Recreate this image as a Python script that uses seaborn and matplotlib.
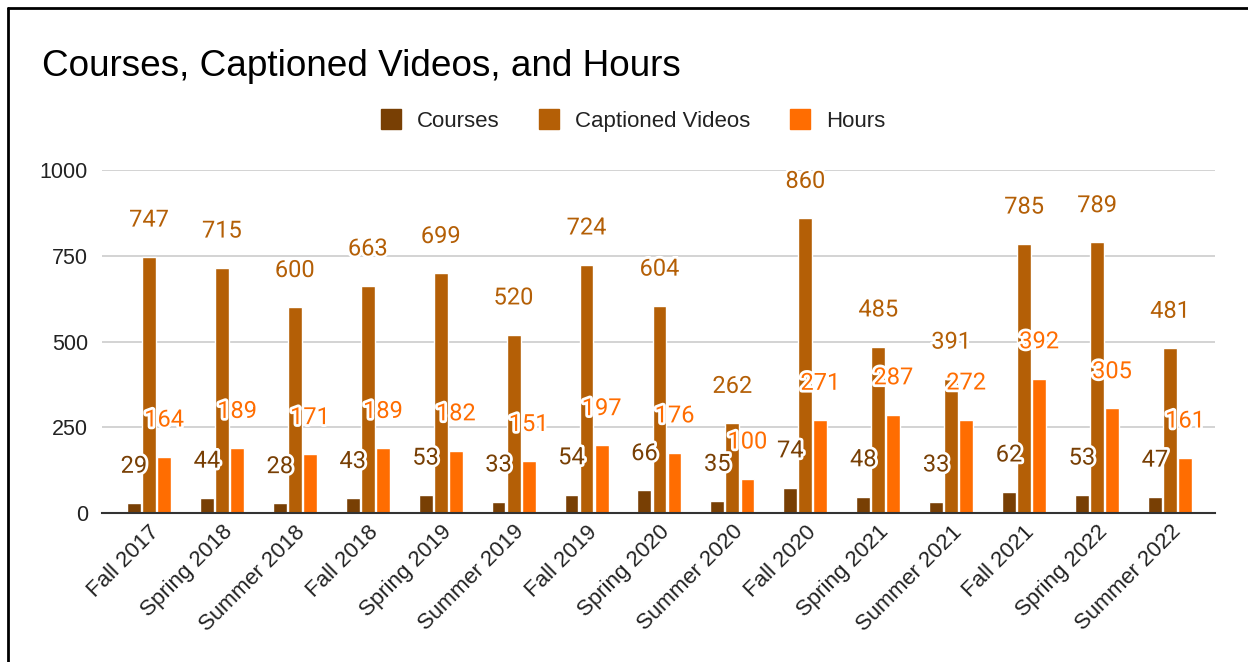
import pandas as pd
import matplotlib.pyplot as plt
import matplotlib.patheffects as pe
from matplotlib.lines import Line2D
import seaborn as sns

# Data
terms = ['Fall 2017', 'Spring 2018', 'Summer 2018', 'Fall 2018', 'Spring 2019',
         'Summer 2019', 'Fall 2019', 'Spring 2020', 'Summer 2020', 'Fall 2020',
         'Spring 2021', 'Summer 2021', 'Fall 2021', 'Spring 2022', 'Summer 2022']
courses = [29, 44, 28, 43, 53, 33, 54, 66, 35, 74, 48, 33, 62, 53, 47]
captioned_videos = [747, 715, 600, 663, 699, 520, 724, 604, 262, 860, 485, 391, 785, 789, 481]
hours = [164, 189, 171, 189, 182, 151, 197, 176, 100, 271, 287, 272, 392, 305, 161]

series = ['Courses', 'Captioned Videos', 'Hours']
colors = ['#783f04', '#b45f06', '#ff6d01']

df = pd.DataFrame({'Term': terms, 'Courses': courses,
                   'Captioned Videos': captioned_videos, 'Hours': hours})
long_df = df.melt(id_vars='Term', var_name='Series', value_name='Value')

sns.set_theme(style='white')
plt.rcParams['font.family'] = ['Liberation Sans', 'DejaVu Sans']

fig = plt.figure(figsize=(12.48, 6.62), dpi=100)
ax = fig.add_axes([0.0817, 0.225, 0.892, 0.518])

sns.barplot(data=long_df, x='Term', y='Value', hue='Series', order=terms,
            hue_order=series, palette=colors, width=0.62, gap=0.08,
            saturation=1, legend=False, ax=ax)

# data labels above each bar, with white halo
for container, color in zip(ax.containers, colors):
    for bar in container:
        h = bar.get_height()
        ax.annotate(f'{h:.0f}', (bar.get_x() + bar.get_width() / 2, h),
                    xytext=(0, 26.5), textcoords='offset points',
                    ha='center', va='center', fontsize=17, color=color,
                    family=['Roboto', 'DejaVu Sans'],
                    path_effects=[pe.withStroke(linewidth=4, foreground='white')])

ax.set_ylim(0, 1000)
ax.set_xlim(-0.645, 14.62)
ax.set_yticks([0, 250, 500, 750, 1000])
ax.grid(axis='y', color='#cccccc', linewidth=1.2)
ax.set_axisbelow(True)
for s in ['top', 'right', 'left']:
    ax.spines[s].set_visible(False)
ax.spines['bottom'].set_color('#333333')
ax.spines['bottom'].set_linewidth(1.5)
ax.set_xlabel('')
ax.set_ylabel('')
ax.tick_params(axis='y', length=0, labelsize=15.5, labelcolor='#222222', pad=10)
ax.tick_params(axis='x', length=0, labelsize=16, labelcolor='#222222', pad=6)
plt.setp(ax.get_xticklabels(), rotation=45, ha='right', rotation_mode='anchor')

fig.text(0.034, 0.900, 'Courses, Captioned Videos, and Hours', fontsize=26.6,
         color='black', va='center', ha='left')

handles = [Line2D([], [], marker='s', linestyle='', markersize=15,
                  markerfacecolor=c, markeredgecolor=c) for c in colors]
fig.legend(handles, series, loc='center', bbox_to_anchor=(0.505, 0.817),
           ncol=3, frameon=False, fontsize=16, handletextpad=0.5,
           handlelength=1.4, columnspacing=1.5, labelcolor='#222222')

# outer frame (left and top edges visible in the reference)
fig.add_artist(Line2D([0.0065, 0.0065], [0, 0.988], color='black', linewidth=2,
                      transform=fig.transFigure))
fig.add_artist(Line2D([0.0065, 1], [0.988, 0.988], color='black', linewidth=2,
                      transform=fig.transFigure))

fig.savefig('out.png', dpi=100)
plt.close(fig)
